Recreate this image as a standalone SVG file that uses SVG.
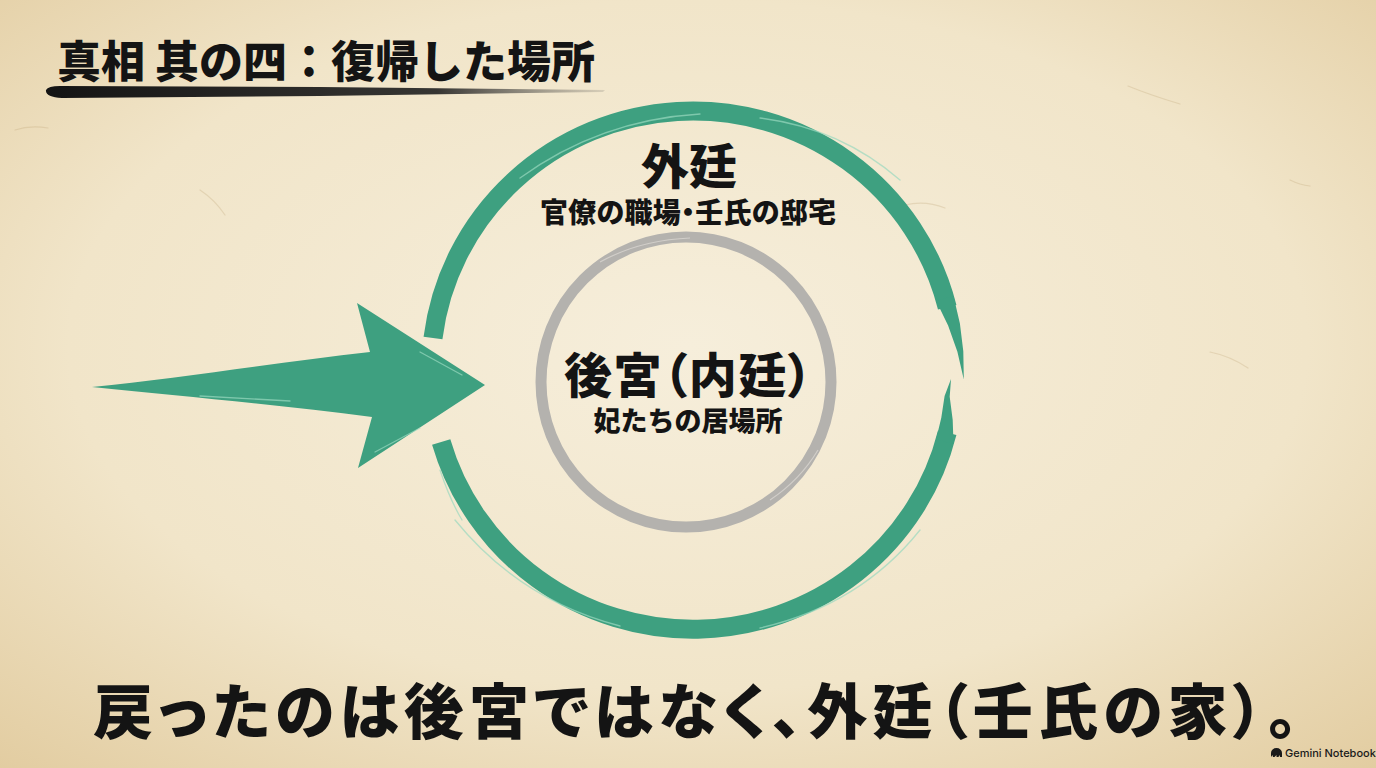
<svg xmlns="http://www.w3.org/2000/svg" width="1376" height="768" viewBox="0 0 1376 768">
  <defs>
    <radialGradient id="paper" cx="50%" cy="45%" r="75%">
      <stop offset="0" stop-color="#f6eedb"/>
      <stop offset="0.6" stop-color="#f1e5c9"/>
      <stop offset="1" stop-color="#e2cca0"/>
    </radialGradient>
    <linearGradient id="brush" x1="0" y1="0" x2="1" y2="0">
      <stop offset="0" stop-color="#141414"/>
      <stop offset="0.7" stop-color="#222" stop-opacity="0.9"/>
      <stop offset="1" stop-color="#444" stop-opacity="0.15"/>
    </linearGradient>
    <style>
      .jp { font-family: "Noto Sans CJK JP", "Noto Sans CJK SC", sans-serif; font-weight: 900; fill: #141414; }
      .palt { font-feature-settings: "palt" 1; }
      .ring { fill: none; stroke: #3ea080; stroke-width: 19; stroke-linecap: butt; }
      .green { fill: #3ea080; }
      .streak { fill: none; stroke: #9ad9bf; stroke-width: 1.3; stroke-opacity: 0.7; stroke-linecap: round; }
      .gray { fill: none; stroke: #b4b2ae; stroke-width: 11; }
      .gstreak { fill: none; stroke: #d8d5cf; stroke-width: 1.2; stroke-opacity: 0.8; }
      .fiber { fill: none; stroke: #b99a6a; stroke-width: 1.2; stroke-opacity: 0.25; stroke-linecap: round; }
    </style>
  </defs>

  <g id="background">
    <rect x="0" y="0" width="1376" height="768" fill="url(#paper)"/>
    <path class="fiber" d="M1128,86 Q1150,95 1180,104"/>
    <path class="fiber" d="M200,190 Q215,200 225,215"/>
    <path class="fiber" d="M1210,352 Q1230,356 1248,368"/>
    <path class="fiber" d="M15,130 Q30,125 48,128"/>
    <path class="fiber" d="M905,205 Q925,200 945,208"/>
    <path class="fiber" d="M1290,180 Q1300,185 1310,186"/>
  </g>

  <g id="title">
    <text class="jp" x="57" y="78" font-size="44">真相 其の四：復帰した場所</text>
    <path d="M46,90 Q48,86 60,86 L320,87 L605,90 L603,92 L320,96 L62,98 Q45,97 46,90 Z" fill="url(#brush)"/>
  </g>

  <g id="node-gaitei">
    <path class="ring" d="M947.2,307.3 A262,259 0 0 0 433,338"/>
    <path class="green" d="M963.8,379.4 L963.3,351.3 L959.9,323.5 L953.5,296.1 L936.2,301.1 L948.1,325.6 L957.4,351.7 Z"/>
    <path class="ring" d="M441.2,442 A262,259 0 0 0 947.2,432.7"/>
    <path class="green" d="M953.5,443.9 L952.7,419.9 L949.7,396.7 L951,379 L944.6,396.1 L941.3,417.7 L936.2,438.9 Z"/>
    <path class="streak" d="M520,178 Q600,120 700,114"/>
    <path class="streak" d="M760,118 Q840,128 900,180"/>
    <path class="streak" d="M455,520 Q520,600 620,626"/>
    <path class="streak" d="M760,628 Q860,605 920,530"/>
    <path class="streak" d="M440,470 Q450,500 462,520"/>
    <text class="jp" x="689" y="184" font-size="48" text-anchor="middle">外廷</text>
    <text class="jp palt" x="688" y="223" font-size="28" text-anchor="middle" textLength="296" lengthAdjust="spacing">官僚の職場・壬氏の邸宅</text>
  </g>

  <g id="node-koukyuu">
    <circle class="gray" cx="686" cy="382" r="145"/>
    <path class="gstreak" d="M600,262 Q640,240 690,238"/>
    <path class="gstreak" d="M770,500 Q800,480 818,450"/>
    <text class="jp palt" x="688" y="393" font-size="48" text-anchor="middle" textLength="248" lengthAdjust="spacing">後宮（内廷）</text>
    <text class="jp" x="688" y="431" font-size="27" text-anchor="middle">妃たちの居場所</text>
  </g>

  <g id="connectors">
    <path class="green" d="M92,387 C180,378 280,362 370,352 L357,303 L485,385 L358,468 L372,417 C280,405 180,396 92,387 Z"/>
    <path class="streak" d="M200,396 L290,401"/>
    <path class="streak" d="M420,352 L462,375"/>
    <path class="streak" d="M375,452 L420,428"/>
  </g>

  <g id="conclusion">
    <text class="jp palt" x="93" y="734" font-size="60" textLength="1205" lengthAdjust="spacing">戻ったのは後宮ではなく、外廷（壬氏の家）。</text>
  </g>

  <g id="watermark">
    <path d="M1271,757 L1271,753 A5.5,5 0 0 1 1282,753 L1282,757 L1280,757 L1279.5,755 L1278.5,757 L1276.5,757 L1276.5,755 L1274.5,757 L1273,757 L1272.5,755 Z" fill="#1a1a1a"/>
    <text x="1285" y="757" font-family="Inter, 'Liberation Sans', sans-serif" font-size="11" font-weight="500" fill="#1a1a1a">Gemini Notebook</text>
  </g>
</svg>
